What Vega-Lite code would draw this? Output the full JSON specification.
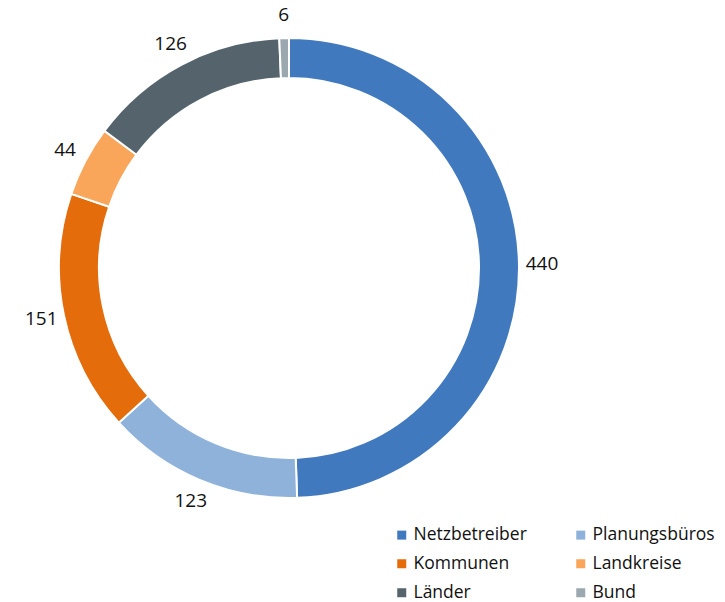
{
  "$schema": "https://vega.github.io/schema/vega-lite/v6.json",
  "width": 578,
  "height": 536,
  "autosize": {"type": "none"},
  "padding": {"left": 0, "top": 0, "right": 147, "bottom": 66},
  "background": "white",
  "config": {"view": {"stroke": null}, "font": "Open Sans"},
  "data": {
    "values": [
      {"gruppe": "Netzbetreiber", "anzahl": 440, "ord": 1},
      {"gruppe": "Planungsbüros", "anzahl": 123, "ord": 2},
      {"gruppe": "Kommunen", "anzahl": 151, "ord": 3},
      {"gruppe": "Landkreise", "anzahl": 44, "ord": 4},
      {"gruppe": "Länder", "anzahl": 126, "ord": 5},
      {"gruppe": "Bund", "anzahl": 6, "ord": 6}
    ]
  },
  "encoding": {
    "theta": {"field": "anzahl", "type": "quantitative", "stack": true},
    "order": {"field": "ord", "type": "quantitative"}
  },
  "layer": [
    {
      "mark": {"type": "arc", "outerRadius": 230, "innerRadius": 190, "stroke": "white", "strokeWidth": 2},
      "encoding": {
        "color": {
          "field": "gruppe",
          "type": "nominal",
          "sort": null,
          "scale": {
            "domain": ["Netzbetreiber", "Planungsbüros", "Kommunen", "Landkreise", "Länder", "Bund"],
            "range": ["#4179bf", "#8fb2db", "#e46c0a", "#f9a55a", "#55646c", "#9ba8b0"]
          },
          "legend": {
            "title": null,
            "orient": "none",
            "direction": "horizontal",
            "legendX": 393,
            "legendY": 526,
            "columns": 2,
            "columnPadding": 45,
            "rowPadding": 10,
            "symbolType": "square",
            "symbolSize": 81,
            "symbolStrokeWidth": 0,
            "symbolOffset": 0,
            "labelFontSize": 17.5,
            "labelFont": "Open Sans",
            "labelColor": "#111111",
            "labelOffset": 3,
            "labelLimit": 300
          }
        }
      }
    },
    {
      "mark": {"type": "text", "radius": 253, "fontSize": 19, "font": "Open Sans", "color": "#111111"},
      "encoding": {
        "text": {"field": "anzahl", "type": "quantitative"}
      }
    }
  ]
}
